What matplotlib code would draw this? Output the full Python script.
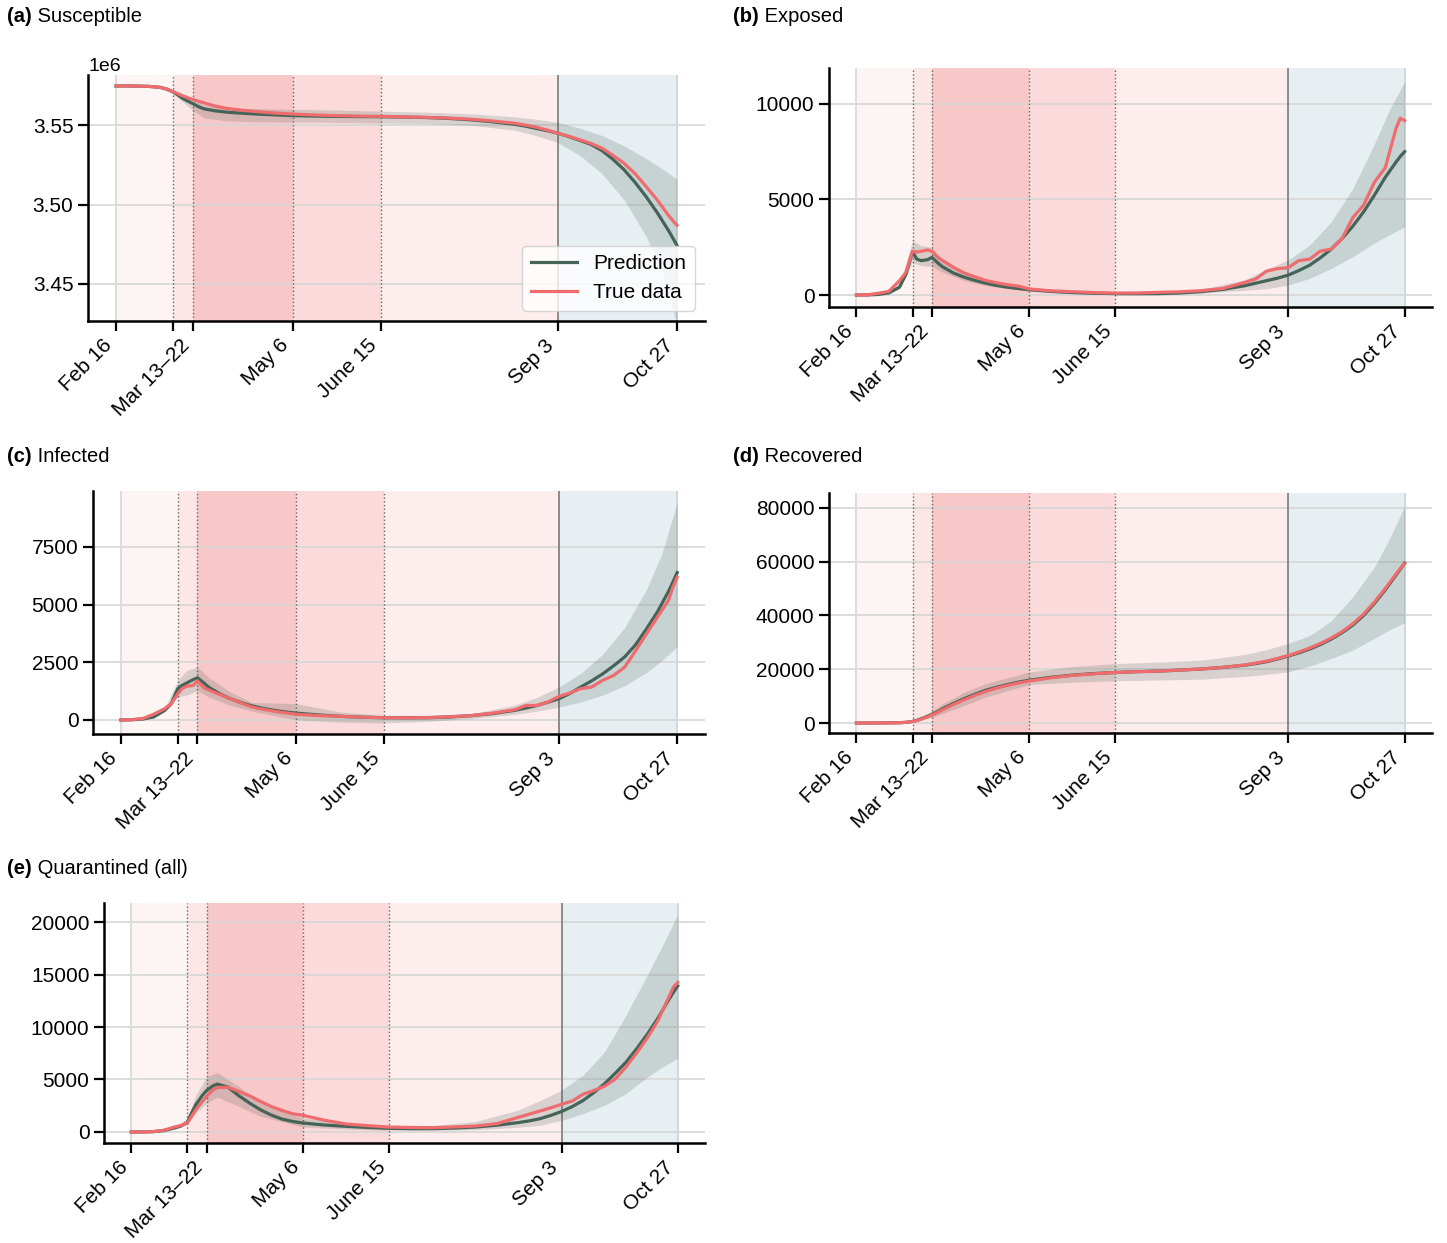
import numpy as np
import matplotlib
matplotlib.use("Agg")
import matplotlib.pyplot as plt

plt.rcParams['font.family'] = ['Liberation Sans', 'DejaVu Sans']
plt.rcParams['font.size'] = 14

# days since Feb 16
days = [0, 5, 10, 15, 20, 23, 26, 28, 30, 33,
        35, 38, 40, 45, 50, 55, 60, 65, 70, 75,
        80, 90, 100, 110, 120, 130, 140, 150, 160, 170,
        180, 185, 190, 195, 200, 205, 210, 215, 220, 225,
        230, 235, 240, 245, 250, 252, 254]
band_days = [0, 15, 20, 26, 30, 35, 40, 50, 60, 80, 100, 120,
             140, 160, 180, 190, 200, 210, 220, 230, 240, 247, 254]

tick_days = [0, 26, 35, 80, 120, 200, 254]
tick_labels = ["Feb 16", "", "Mar 13\u201322", "May 6", "June 15", "Sep 3", "Oct 27"]

# (a) Susceptible, in millions
sus_pred = [3.5747, 3.5747, 3.5746, 3.5744, 3.5738, 3.5727, 3.5708, 3.5690, 3.5670, 3.5648,
            3.5634, 3.5612, 3.5602, 3.5590, 3.5582, 3.5577, 3.5573, 3.5569, 3.5566, 3.5563,
            3.5560, 3.5557, 3.5555, 3.5554, 3.5553, 3.5551, 3.5548, 3.5543, 3.5534, 3.5522,
            3.5506, 3.5495, 3.5480, 3.5466, 3.5449, 3.5428, 3.5404, 3.5379, 3.5340, 3.5285,
            3.5220, 3.5140, 3.5050, 3.4950, 3.4840, 3.4792, 3.4742]
sus_true = [3.5747, 3.5747, 3.5746, 3.5744, 3.5738, 3.5727, 3.5710, 3.5698, 3.5686, 3.5670,
            3.5661, 3.5648, 3.5640, 3.5620, 3.5606, 3.5597, 3.5590, 3.5584, 3.5578, 3.5574,
            3.5570, 3.5564, 3.5560, 3.5557, 3.5555, 3.5552, 3.5549, 3.5545, 3.5538, 3.5527,
            3.5513, 3.5502, 3.5488, 3.5470, 3.5449, 3.5430, 3.5408, 3.5385, 3.5355, 3.5310,
            3.5260, 3.5195, 3.5114, 3.5030, 3.4935, 3.4900, 3.4870]
sus_hi = [3.5750, 3.5748, 3.5745, 3.5715, 3.5690, 3.5662, 3.5625, 3.5608, 3.5604, 3.5600, 3.5595, 3.5588,
          3.5582, 3.5572, 3.5553, 3.5538, 3.5517, 3.5482, 3.5435, 3.5370, 3.5290, 3.5228, 3.5160]
sus_lo = [3.5744, 3.5740, 3.5733, 3.5700, 3.5650, 3.5590, 3.5545, 3.5528, 3.5522, 3.5520, 3.5517, 3.5513,
          3.5510, 3.5500, 3.5470, 3.5435, 3.5390, 3.5310, 3.5195, 3.5030, 3.4800, 3.4590, 3.4250]

# (b) Exposed
exp_pred = [0, 5, 30, 110, 420, 1100, 2250, 1880, 1800, 1850,
            1970, 1650, 1470, 1150, 930, 760, 620, 500, 410, 340,
            280, 190, 130, 95, 75, 70, 75, 110, 180, 300,
            490, 620, 750, 880, 1040, 1280, 1560, 1950, 2400, 2950,
            3600, 4350, 5220, 6150, 6950, 7250, 7500]
exp_true = [0, 10, 90, 190, 750, 1190, 2290, 2250, 2290, 2360,
            2290, 1950, 1800, 1450, 1150, 950, 760, 640, 540, 470,
            320, 220, 175, 130, 100, 110, 140, 170, 230, 350,
            660, 840, 1250, 1380, 1430, 1800, 1880, 2300, 2400, 2950,
            4050, 4700, 5900, 6650, 8700, 9250, 9130]
exp_hi = [0, 150, 550, 2850, 2580, 2500, 1710, 1150, 750, 380, 200, 130,
          150, 310, 800, 1350, 1830, 2610, 3830, 5570, 7900, 9700, 11150]
exp_lo = [0, 80, 300, 1700, 1540, 1500, 1190, 750, 490, 200, 80, 30,
          30, 100, 250, 330, 520, 870, 1390, 2000, 2720, 3150, 3570]

# (c) Infected
inf_pred = [0, 10, 40, 130, 420, 700, 1360, 1500, 1600, 1750,
            1830, 1600, 1430, 1140, 920, 750, 610, 500, 420, 350,
            300, 220, 160, 120, 100, 95, 100, 130, 190, 280,
            420, 520, 630, 770, 920, 1150, 1430, 1700, 2000, 2350,
            2730, 3260, 3950, 4690, 5570, 5970, 6390]
inf_true = [0, 15, 60, 250, 490, 700, 1140, 1360, 1460, 1500,
            1690, 1400, 1310, 1110, 920, 730, 560, 460, 380, 310,
            250, 190, 160, 120, 100, 95, 100, 140, 190, 300,
            450, 630, 630, 780, 1020, 1170, 1360, 1430, 1720, 1930,
            2290, 3000, 3740, 4460, 5180, 5750, 6190]
inf_hi = [0, 160, 520, 1700, 2150, 2290, 1860, 1210, 760, 710, 350, 200,
          200, 270, 650, 980, 1430, 2020, 2850, 4010, 5660, 7200, 9440]
inf_lo = [0, 100, 330, 1000, 1070, 1280, 1000, 630, 380, 0, -90, -130,
          -60, 60, 250, 380, 560, 780, 1080, 1490, 2060, 2570, 3190]

# (d) Recovered
rec_pred = [0, 0, 20, 50, 100, 250, 600, 1000, 1600, 2500,
            3200, 4400, 5350, 7300, 9100, 10700, 12200, 13300, 14300, 15200,
            15900, 17000, 17800, 18400, 18800, 19100, 19300, 19700, 20100, 20700,
            21500, 22100, 22800, 23800, 24900, 26100, 27500, 29200, 31200, 33600,
            36400, 40000, 44500, 49500, 55000, 57200, 59500]
rec_true = [0, 0, 20, 50, 100, 250, 550, 900, 1450, 2300,
            3000, 4100, 5000, 6900, 8700, 10300, 11800, 13000, 14000, 14900,
            15600, 16800, 17700, 18300, 18800, 19100, 19300, 19700, 20100, 20700,
            21600, 22300, 23000, 24000, 25100, 26400, 27900, 29600, 31600, 34000,
            36900, 40500, 45000, 50000, 55400, 57500, 59300]
rec_hi = [0, 60, 150, 800, 2200, 4500, 7200, 11500, 14700, 19000, 21000, 22100,
          22700, 23400, 25500, 27300, 29600, 32500, 38000, 47000, 58000, 68500, 80600]
rec_lo = [0, 40, 80, 400, 1000, 2000, 3500, 6500, 9700, 14300, 15200, 15700,
          16000, 16300, 17300, 18100, 19000, 21200, 24000, 27100, 31500, 34600, 37300]

# (e) Quarantined (all)
qua_pred = [0, 5, 30, 130, 380, 560, 920, 1800, 2600, 3480,
            3960, 4400, 4560, 4270, 3450, 2750, 2120, 1620, 1230, 1000,
            850, 660, 540, 430, 350, 320, 320, 370, 470, 650,
            900, 1060, 1270, 1580, 1950, 2420, 3000, 3750, 4600, 5600,
            6650, 7950, 9350, 10900, 12650, 13300, 13920]
qua_true = [0, 5, 30, 160, 470, 620, 850, 1490, 2120, 2910,
            3390, 4020, 4240, 4270, 3860, 3450, 2910, 2440, 2060, 1740,
            1580, 1110, 760, 600, 470, 430, 410, 480, 570, 800,
            1400, 1700, 2000, 2300, 2640, 2950, 3600, 3950, 4350, 5050,
            6200, 7550, 9000, 10670, 12900, 13800, 14250]
qua_hi = [0, 170, 500, 1200, 3500, 5280, 5660, 4340, 2750, 1330, 800, 540,
          600, 1000, 2100, 3000, 3980, 5410, 7640, 11150, 15000, 17800, 20700]
qua_lo = [0, 90, 280, 700, 1800, 2750, 3320, 2440, 1490, 470, 280, 160,
          150, 220, 450, 640, 1110, 1750, 2550, 3660, 5250, 6200, 7000]

pred_color = '#456357'
true_color = '#ee6b6e'
phase_edges = [0, 26, 35, 80, 120, 200, 254]
phase_colors = ['#fdf4f4', '#fce6e6', '#f8c8c8', '#fadada', '#fdeded', '#e8eff2']

W, H = 1447, 1243
fig = plt.figure(figsize=(W / 100, H / 100), dpi=100)

def px_axes(left, top, right, bottom):
    return fig.add_axes([left / W, (H - bottom) / H, (right - left) / W, (bottom - top) / H])

panels = [
    ("(a)", "Susceptible", (7, 17), (88, 75, 705, 321),
     np.array(sus_pred) * 1e6, np.array(sus_true) * 1e6, np.array(sus_lo) * 1e6, np.array(sus_hi) * 1e6,
     (3.4266e6, 3.5816e6), [3.45e6, 3.50e6, 3.55e6]),
    ("(b)", "Exposed", (733, 17), (829, 68, 1432, 307),
     exp_pred, exp_true, exp_lo, exp_hi, (-625, 11875), [0, 5000, 10000]),
    ("(c)", "Infected", (7, 457), (93, 491, 705, 734),
     inf_pred, inf_true, inf_lo, inf_hi, (-607, 9926), [0, 2500, 5000, 7500]),
    ("(d)", "Recovered", (733, 457), (829, 493, 1432, 733),
     rec_pred, rec_true, rec_lo, rec_hi, (-3720, 85580), [0, 20000, 40000, 60000, 80000]),
    ("(e)", "Quarantined (all)", (7, 869), (104, 903, 705, 1143),
     qua_pred, qua_true, qua_lo, qua_hi, (-1048, 21810), [0, 5000, 10000, 15000, 20000]),
]

for tag, name, tpos, box, pred, true, lo, hi, ylim, yticks in panels:
    ax = px_axes(*box)

    # intervention phases
    for i in range(len(phase_colors)):
        ax.axvspan(phase_edges[i], phase_edges[i + 1], color=phase_colors[i], lw=0, zorder=0)
    ax.axvline(0, color='#dadada', lw=1.3, zorder=0.6)
    ax.axvline(254, color='#cfd5d8', lw=1.3, zorder=0.6)
    for d in [26, 35, 80, 120]:
        ax.axvline(d, color='#666666', ls=':', lw=1.0, zorder=0.6)
    ax.axvline(200, color='#7a7a7a', lw=1.2, zorder=0.6)

    ax.fill_between(band_days, lo, hi, color=pred_color, alpha=0.2, lw=0, zorder=1)
    ax.plot(days, pred, color=pred_color, lw=2.3, zorder=2, label="Prediction")
    ax.plot(days, true, color=true_color, lw=2.3, zorder=3, label="True data")

    ax.set_axisbelow(True)
    ax.grid(axis='y', color='#d6d6d6', lw=1.2)
    ax.set_xlim(-12.7, 266.7)
    ax.set_ylim(*ylim)
    ax.set_yticks(yticks)
    ax.set_xticks(tick_days)
    ax.set_xticklabels(tick_labels, rotation=45, ha='right')
    for s in ['top', 'right']:
        ax.spines[s].set_visible(False)
    for s in ['left', 'bottom']:
        ax.spines[s].set_linewidth(1.8)
    ax.tick_params(direction='out', length=7, width=1.6, labelsize=15)

    t = fig.text(tpos[0] / W, 1 - tpos[1] / H, tag, fontweight='bold', fontsize=14.5,
                 ha='left', va='center')
    ax.annotate(" " + name, xy=(1, 0), xycoords=t, ha='left', va='bottom', fontsize=14.5)

    if tag == "(a)":
        ax.legend(loc='lower right', fontsize=15, handlelength=2.2, handletextpad=0.8,
                  framealpha=0.8, edgecolor='#cccccc', fancybox=True)

fig.savefig("out.png", dpi=100)
